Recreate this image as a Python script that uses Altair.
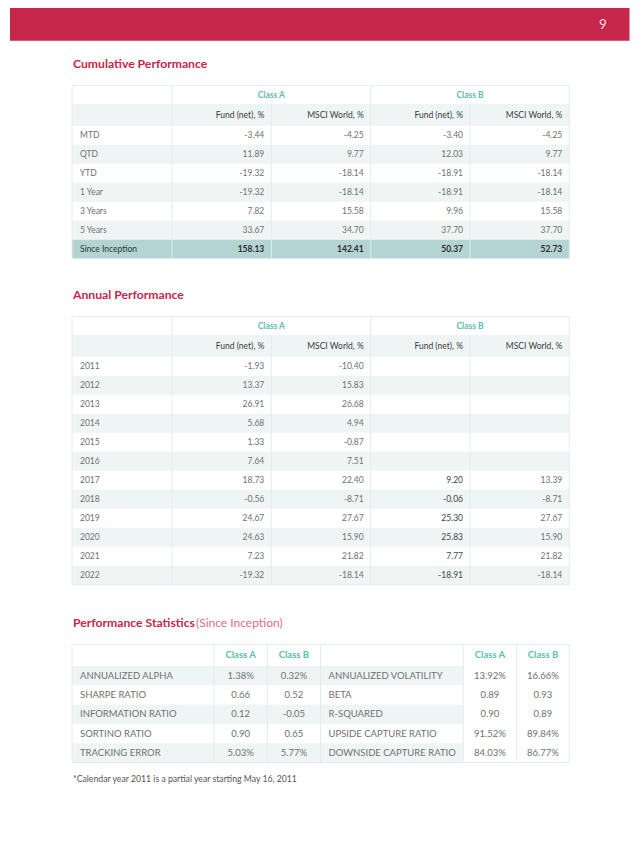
import altair as alt
import pandas as pd

# ---------------- data ----------------
page_number = "9"
title_cum = "Cumulative Performance"
title_ann = "Annual Performance"
title_stats = "Performance Statistics"
title_stats_sub = "(Since Inception)"
footnote = "*Calendar year 2011 is a partial year starting May 16, 2011"

class_labels = ["Class A", "Class B"]
sub_labels = ["Fund (net), %", "MSCI World, %"]

cum_periods = ["MTD", "QTD", "YTD", "1 Year", "3 Years", "5 Years", "Since Inception"]
cum_a_fund = [-3.44, 11.89, -19.32, -19.32, 7.82, 33.67, 158.13]
cum_a_msci = [-4.25, 9.77, -18.14, -18.14, 15.58, 34.70, 142.41]
cum_b_fund = [-3.40, 12.03, -18.91, -18.91, 9.96, 37.70, 50.37]
cum_b_msci = [-4.25, 9.77, -18.14, -18.14, 15.58, 37.70, 52.73]

ann_years = ["2011", "2012", "2013", "2014", "2015", "2016", "2017", "2018", "2019", "2020", "2021", "2022"]
ann_a_fund = [-1.93, 13.37, 26.91, 5.68, 1.33, 7.64, 18.73, -0.56, 24.67, 24.63, 7.23, -19.32]
ann_a_msci = [-10.40, 15.83, 26.68, 4.94, -0.87, 7.51, 22.40, -8.71, 27.67, 15.90, 21.82, -18.14]
ann_b_fund = [None, None, None, None, None, None, 9.20, -0.06, 25.30, 25.83, 7.77, -18.91]
ann_b_msci = [None, None, None, None, None, None, 13.39, -8.71, 27.67, 15.90, 21.82, -18.14]

stats_left_labels = ["ANNUALIZED ALPHA", "SHARPE RATIO", "INFORMATION RATIO", "SORTINO RATIO", "TRACKING ERROR"]
stats_left_a = [1.38, 0.66, 0.12, 0.90, 5.03]
stats_left_b = [0.32, 0.52, -0.05, 0.65, 5.77]
stats_left_pct = [True, False, False, False, True]
stats_right_labels = ["ANNUALIZED VOLATILITY", "BETA", "R-SQUARED", "UPSIDE CAPTURE RATIO", "DOWNSIDE CAPTURE RATIO"]
stats_right_a = [13.92, 0.89, 0.90, 91.52, 84.03]
stats_right_b = [16.66, 0.93, 0.89, 89.84, 86.77]
stats_right_pct = [True, False, False, True, True]

# ---------------- style ----------------
RED = "#C5264A"
RED_LIGHT = "#E26A84"
TEAL = "#5BBDAF"
STRIPE = "#EFF5F5"
HILITE = "#B3D4D2"
BORDER = "#E3ECEC"
GREY = "#707070"
DARK = "#3a3a3a"
FONT = "Lato"

W, H = 624, 825
X0, Y0 = 8, 8

rects, rules, texts = [], [], []


def rect(x0, x1, y0, y1, fill):
    rects.append(dict(x=x0, x2=x1, y=y0, y2=y1, fill=fill))


def vline(x, y0, y1, color=BORDER):
    rules.append(dict(x=x, y=y0, y2=y1, color=color))


def hline(x0, x1, y, color=BORDER):
    rules.append(dict(x=x0, x2=x1, y=y, y2=y, color=color))


def text(x, y, s, align="left", weight="normal", color=GREY, size=8.5):
    texts.append(dict(x=x, y=y, text=s, align=align, weight=weight, color=color, size=size))


def fmt(v, pct=False):
    if v is None:
        return ""
    return f"{v:.2f}" + ("%" if pct else "")


def outline(x0, x1, y0, y1):
    hline(x0, x1, y0)
    hline(x0, x1, y1)
    vline(x0, y0, y1)
    vline(x1, y0, y1)


def perf_table(top, labels, cols_vals, hilite_last, dark_col=None):
    cols = [72, 172, 271.3, 370.7, 470, 569.3]
    h1, h2, rh = 18.3, 21.7, 19.0
    y_h1 = top + h1
    y_h2 = y_h1 + h2
    n = len(labels)
    bottom = y_h2 + n * rh
    rect(cols[0], cols[-1], y_h1, y_h2, STRIPE)
    for i in range(n):
        ya = y_h2 + i * rh
        if hilite_last and i == n - 1:
            rect(cols[0], cols[-1], ya, ya + rh, HILITE)
        elif i % 2 == 1:
            rect(cols[0], cols[-1], ya, ya + rh, STRIPE)
    outline(cols[0], cols[-1], top, bottom)
    vline(cols[1], top, bottom)
    vline(cols[3], top, bottom)
    vline(cols[2], y_h1, bottom)
    vline(cols[4], y_h1, bottom)
    # headers
    text((cols[1] + cols[3]) / 2, top + h1 / 2, class_labels[0], "center", "bold", TEAL, 8.5)
    text((cols[3] + cols[5]) / 2, top + h1 / 2, class_labels[1], "center", "bold", TEAL, 8.5)
    for k in range(4):
        text(cols[k + 2] - 7, y_h1 + h2 / 2, sub_labels[k % 2], "right", "normal", DARK, 8.5)
    for i, lab in enumerate(labels):
        yc = y_h2 + i * rh + rh / 2
        last = hilite_last and i == n - 1
        c = "#2a2a2a" if last else GREY
        w = "bold" if last else "normal"
        text(cols[0] + 8, yc, lab, "left", "normal", "#333333" if last else GREY, 8.5)
        for k, vals in enumerate(cols_vals):
            cc = c
            if dark_col is not None and k == dark_col and not last:
                cc = "#454545"
            text(cols[k + 2] - 7, yc, fmt(vals[i]), "right", w if last else "normal", cc, 8.5)


# header bar
rect(10, 629.5, 8, 40.7, RED)
text(603, 24.5, page_number, "center", "normal", "#F6DCE2", 13.5)

# titles
text(73, 63.5, title_cum, "left", "bold", RED, 12.2)
text(73, 295, title_ann, "left", "bold", RED, 12.2)
text(73, 622.7, title_stats, "left", "bold", RED, 12.2)
text(196, 622.7, title_stats_sub, "left", "normal", RED_LIGHT, 12)

perf_table(85.7, cum_periods, [cum_a_fund, cum_a_msci, cum_b_fund, cum_b_msci], True)
perf_table(316.7, ann_years, [ann_a_fund, ann_a_msci, ann_b_fund, ann_b_msci], False, dark_col=2)

# statistics table
scols = [72, 214, 267.3, 320.5, 463.3, 516.7, 569.3]
s_top, s_h, s_rh = 644.3, 21.7, 19.3
s_body = s_top + s_h
s_bottom = s_body + len(stats_left_labels) * s_rh
for i in range(len(stats_left_labels)):
    ya = s_body + i * s_rh
    if i % 2 == 0:
        rect(scols[0], scols[3], ya, ya + s_rh, STRIPE)
        rect(scols[3], scols[4], ya, ya + s_rh, STRIPE)
outline(scols[0], scols[-1], s_top, s_bottom)
for xc in scols[1:-1]:
    vline(xc, s_top, s_bottom)
for k, lab in enumerate(class_labels * 2):
    col = [1, 2, 4, 5][k]
    text((scols[col] + scols[col + 1]) / 2, s_top + s_h / 2, lab, "center", "bold", TEAL, 9.5)
for i in range(len(stats_left_labels)):
    yc = s_body + i * s_rh + s_rh / 2
    text(scols[0] + 8, yc, stats_left_labels[i], "left", "normal", GREY, 9.5)
    text((scols[1] + scols[2]) / 2, yc, fmt(stats_left_a[i], stats_left_pct[i]), "center", "normal", GREY, 9.5)
    text((scols[2] + scols[3]) / 2, yc, fmt(stats_left_b[i], stats_left_pct[i]), "center", "normal", GREY, 9.5)
    text(scols[3] + 8, yc, stats_right_labels[i], "left", "normal", GREY, 9.5)
    text((scols[4] + scols[5]) / 2, yc, fmt(stats_right_a[i], stats_right_pct[i]), "center", "normal", GREY, 9.5)
    text((scols[5] + scols[6]) / 2, yc, fmt(stats_right_b[i], stats_right_pct[i]), "center", "normal", GREY, 9.5)

text(73, 779, footnote, "left", "normal", "#555555", 8.7)

# ---------------- chart ----------------
xs = alt.Scale(domain=[X0, X0 + W], nice=False, zero=False)
ys = alt.Scale(domain=[Y0, Y0 + H], nice=False, zero=False, reverse=True)

rect_df = pd.DataFrame(rects)
rule_df = pd.DataFrame(rules)
rule_df["x2"] = rule_df["x2"].fillna(rule_df["x"])
text_df = pd.DataFrame(texts)

rect_layer = alt.Chart(rect_df).mark_rect().encode(
    x=alt.X("x:Q", scale=xs, axis=None),
    x2="x2:Q",
    y=alt.Y("y:Q", scale=ys, axis=None),
    y2="y2:Q",
    color=alt.Color("fill:N", scale=None),
)

rule_layer = alt.Chart(rule_df).mark_rule(strokeWidth=1).encode(
    x=alt.X("x:Q", scale=xs, axis=None),
    x2="x2:Q",
    y=alt.Y("y:Q", scale=ys, axis=None),
    y2="y2:Q",
    color=alt.Color("color:N", scale=None),
)

layers = [rect_layer, rule_layer]
for (al, wt), sub in text_df.groupby(["align", "weight"]):
    layers.append(
        alt.Chart(sub).mark_text(align=al, baseline="middle", fontWeight=wt, font=FONT).encode(
            x=alt.X("x:Q", scale=xs, axis=None),
            y=alt.Y("y:Q", scale=ys, axis=None),
            text="text:N",
            color=alt.Color("color:N", scale=None),
            size=alt.Size("size:Q", scale=None),
        )
    )

chart = alt.layer(*layers).properties(
    width=W, height=H, padding=0, autosize=alt.AutoSizeParams(type="none"), background="white"
).configure_view(stroke=None)

chart.save("out.html", embed_options={"renderer": "svg", "actions": False})
